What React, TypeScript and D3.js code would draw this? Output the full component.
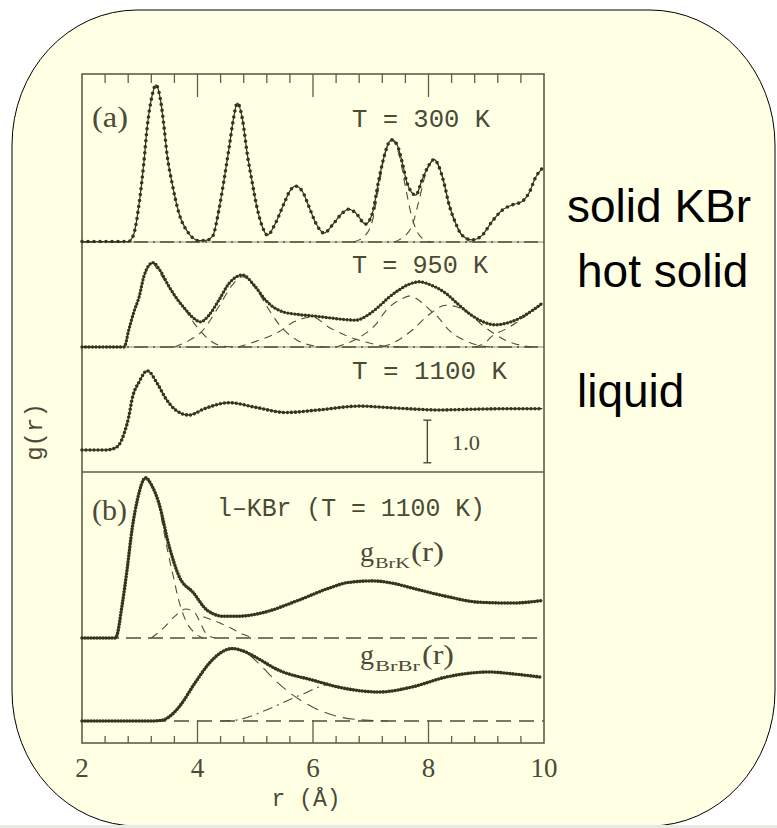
import React from "react";
import * as d3 from "d3";

type P = [number, number];

// ---------- data (r in Å, g in units of the "1.0" scale bar) ----------
const X_TICK_LABELS = [2, 4, 6, 8, 10];

const g300K: P[] = [
  [2.0, 0.01], [2.4, 0.01], [2.8, 0.01], [2.87, 0.1], [2.9, 0.2], [2.99, 0.91], [3.07, 1.85], [3.13, 2.71],
  [3.21, 3.41], [3.28, 3.69], [3.36, 3.33], [3.42, 2.71], [3.47, 2.08], [3.56, 1.38], [3.68, 0.67],
  [3.85, 0.2], [4.03, 0.03], [4.15, 0.04], [4.26, 0.13], [4.37, 0.75], [4.46, 1.46], [4.55, 2.24],
  [4.62, 2.87], [4.69, 3.26], [4.78, 2.87], [4.86, 2.08], [4.95, 1.38], [5.04, 0.75], [5.12, 0.37],
  [5.21, 0.16], [5.35, 0.44], [5.5, 0.91], [5.61, 1.22], [5.7, 1.31], [5.82, 1.18], [5.93, 0.83],
  [6.05, 0.44], [6.19, 0.21], [6.36, 0.44], [6.51, 0.68], [6.62, 0.77], [6.74, 0.68], [6.91, 0.42],
  [7.03, 0.68], [7.14, 1.46], [7.23, 2.0], [7.32, 2.35], [7.37, 2.4], [7.46, 2.27], [7.55, 1.84],
  [7.63, 1.38], [7.78, 1.1], [7.89, 1.46], [8.01, 1.81], [8.1, 1.94], [8.18, 1.77], [8.27, 1.38],
  [8.35, 0.91], [8.47, 0.44], [8.58, 0.16], [8.76, 0.05], [8.93, 0.16], [9.1, 0.48], [9.28, 0.75],
  [9.45, 0.87], [9.62, 0.95], [9.74, 1.15], [9.86, 1.53], [9.97, 1.73],
];
const g300K_c5: P[] = [
  [6.7, 0], [6.8, 0.05], [6.88, 0.12], [7.03, 0.5], [7.14, 1.3], [7.25, 2.1], [7.37, 2.38], [7.5, 2.0],
  [7.6, 1.3], [7.7, 0.65], [7.8, 0.25], [7.9, 0.08], [8.05, 0],
];
const g300K_c6: P[] = [
  [7.4, 0], [7.49, 0.05], [7.6, 0.15], [7.72, 0.4], [7.84, 1.0], [7.95, 1.6], [8.1, 1.92], [8.25, 1.5],
  [8.35, 0.9], [8.47, 0.42], [8.6, 0.12], [8.75, 0],
];

const g950K: P[] = [
  [2.0, 0], [2.4, 0], [2.73, 0], [2.81, 0.4], [2.9, 0.83], [2.99, 1.18], [3.07, 1.65], [3.15, 1.9],
  [3.23, 1.98], [3.35, 1.8], [3.51, 1.41], [3.65, 1.12], [3.8, 0.87], [3.93, 0.68], [4.05, 0.59],
  [4.2, 0.75], [4.37, 1.1], [4.55, 1.5], [4.78, 1.69], [4.98, 1.45], [5.18, 1.1], [5.32, 0.93],
  [5.47, 0.83], [5.7, 0.77], [5.99, 0.73], [6.25, 0.69], [6.51, 0.65], [6.74, 0.63], [6.95, 0.75],
  [7.14, 0.95], [7.3, 1.15], [7.49, 1.34], [7.66, 1.47], [7.84, 1.53], [8.05, 1.45], [8.3, 1.26],
  [8.5, 1.02], [8.7, 0.79], [8.93, 0.6], [9.16, 0.52], [9.35, 0.56], [9.57, 0.67], [9.8, 0.86], [9.97, 1.03],
];
const g950K_c1: P[] = [[3.23, 1.98], [3.5, 1.42], [3.8, 0.85], [3.94, 0.56], [4.08, 0.33], [4.2, 0.17], [4.4, 0.03], [4.6, 0]];
const g950K_c2: P[] = [
  [3.6, 0], [3.85, 0.15], [4.05, 0.33], [4.37, 0.95], [4.6, 1.45], [4.78, 1.65], [5.0, 1.4], [5.18, 1.0],
  [5.43, 0.5], [5.71, 0.17], [6.0, 0.03], [6.2, 0],
];
const g950K_c3: P[] = [
  [4.7, 0], [5.09, 0.17], [5.41, 0.36], [5.67, 0.59], [5.99, 0.7], [6.28, 0.46], [6.57, 0.27], [6.9, 0.12],
  [7.2, 0.03], [7.5, 0],
];
const g950K_c4: P[] = [
  [6.4, 0], [6.7, 0.15], [6.91, 0.32], [7.1, 0.55], [7.26, 0.85], [7.52, 1.12], [7.68, 1.2], [7.85, 1.08],
  [8.0, 0.9], [8.18, 0.68], [8.35, 0.4], [8.64, 0.15], [8.9, 0.03], [9.1, 0],
];
const g950K_c5: P[] = [
  [7.2, 0], [7.49, 0.17], [7.72, 0.4], [8.0, 0.75], [8.3, 0.98], [8.47, 0.95], [8.7, 0.8], [8.9, 0.55],
  [9.15, 0.3], [9.35, 0.15], [9.6, 0.04], [9.8, 0],
];
const g950K_c6: P[] = [[8.8, 0], [9.0, 0.12], [9.12, 0.28], [9.29, 0.39], [9.5, 0.55], [9.7, 0.75], [9.97, 1.0]];

const g1100K: P[] = [
  [2.0, 0], [2.4, 0], [2.52, 0.02], [2.64, 0.12], [2.73, 0.39], [2.81, 0.78], [2.87, 1.21], [2.99, 1.6],
  [3.13, 1.86], [3.3, 1.57], [3.45, 1.21], [3.62, 0.94], [3.85, 0.82], [4.14, 0.98], [4.55, 1.11],
  [5.01, 1.0], [5.53, 0.88], [6.1, 0.94], [6.8, 1.03], [7.49, 0.98], [8.18, 0.94], [8.87, 0.96],
  [9.5, 0.97], [9.97, 0.97],
];

const gBrK: P[] = [
  [2.0, 0], [2.4, 0], [2.58, 0], [2.7, 0.82], [2.78, 1.6], [2.87, 2.58], [2.96, 3.25], [3.1, 3.76],
  [3.2, 3.6], [3.33, 3.17], [3.51, 2.15], [3.68, 1.45], [3.93, 1.06], [4.16, 0.66], [4.45, 0.51],
  [4.7, 0.51], [5.12, 0.59], [5.7, 0.86], [6.28, 1.17], [6.6, 1.3], [7.03, 1.34], [7.4, 1.28],
  [7.72, 1.17], [8.3, 0.98], [8.87, 0.84], [9.45, 0.82], [9.97, 0.88],
];
const gBrK_c1: P[] = [[3.33, 3.17], [3.48, 2.07], [3.58, 1.45], [3.68, 0.86], [3.8, 0.4], [3.95, 0.12], [4.1, 0]];
const gBrK_c2: P[] = [[3.2, 0], [3.4, 0.22], [3.6, 0.5], [3.8, 0.68], [3.95, 0.6], [4.05, 0.35], [4.15, 0.1], [4.3, 0]];
const gBrK_c3: P[] = [[4.1, 0.5], [4.3, 0.4], [4.55, 0.25], [4.8, 0.08], [5.0, 0]];

const gBrBr: P[] = [
  [2.0, 0], [2.6, 0], [3.2, 0], [3.39, 0.02], [3.53, 0.12], [3.68, 0.33], [3.97, 0.92], [4.2, 1.35],
  [4.4, 1.6], [4.6, 1.7], [4.78, 1.65], [4.95, 1.54], [5.41, 1.19], [5.99, 0.96], [6.57, 0.76],
  [7.14, 0.68], [7.72, 0.8], [8.3, 1.03], [8.7, 1.12], [9.05, 1.15], [9.5, 1.1], [9.94, 1.03],
];
const gBrBr_c1: P[] = [[4.6, 1.7], [4.85, 1.6], [5.06, 1.35], [5.35, 0.95], [5.64, 0.62], [5.99, 0.33], [6.45, 0.1], [6.9, 0.02], [7.3, 0]];
const gBrBr_c2: P[] = [[4.4, 0], [4.66, 0.02], [5.18, 0.25], [5.64, 0.53], [5.87, 0.66], [6.1, 0.8], [6.3, 0.87]];

// ---------- layout ----------
const W = 777, H = 828;
const FL = 82, FR = 544, FT = 74, FB = 743;
const UNIT = 42.6;
const INK = "#34341f";
const TXT = "#4a4a37";
const FRAME = "#5f5f4a";
const MONO = "'Liberation Mono', 'DejaVu Sans Mono', monospace";
const SERIF = "'Liberation Serif', 'DejaVu Serif', serif";
const SANS = "'Liberation Sans', Arial, sans-serif";

const x = d3.scaleLinear().domain([2, 10]).range([FL, FR]);
const yAt = (base: number) => d3.scaleLinear().domain([0, 1]).range([base, base - UNIT]);

function pathFor(data: P[], base: number) {
  const y = yAt(base);
  return d3.line<P>().x((d) => x(d[0])).y((d) => y(d[1])).curve(d3.curveMonotoneX)(data) || "";
}

function MainCurve({ data, base, gap, dot }: { data: P[]; base: number; gap: number; dot: number }) {
  const d = pathFor(data, base);
  return (
    <g>
      <path d={d} fill="none" stroke={INK} strokeWidth={1.2} />
      <path d={d} fill="none" stroke={INK} strokeWidth={dot} strokeLinecap="round" strokeDasharray={`0 ${gap}`} />
    </g>
  );
}

function Comp({ data, base, dash = "8 6" }: { data: P[]; base: number; dash?: string }) {
  return <path d={pathFor(data, base)} fill="none" stroke="#4f4f3a" strokeWidth={1.1} strokeDasharray={dash} />;
}

function Baseline({ y, dash, solid }: { y: number; dash: string; solid?: boolean }) {
  return (
    <g>
      {solid && <line x1={FL} x2={FR} y1={y} y2={y} stroke="#8c8c74" strokeWidth={1} />}
      <line x1={FL} x2={FR} y1={y} y2={y} stroke="#4f4f3a" strokeWidth={1.3} strokeDasharray={dash} />
    </g>
  );
}

export default function App() {
  const minor = d3.range(0, 21).map((i) => 2 + i * 0.4).filter((v) => v > 2.01 && v < 9.99);
  const major = [4, 6, 8];
  const isMajor = (v: number) => major.some((m) => Math.abs(m - v) < 1e-6);
  const B300 = 242, B950 = 347, B1100 = 450, BBrK = 638, BBrBr = 721;
  const y1100 = yAt(B1100);

  return (
    <svg width={W} height={H} style={{ position: "absolute", left: 0, top: 0, display: "block" }}>
      <rect x={0} y={0} width={W} height={H} fill="#ffffff" />
      <rect x={12} y={10} width={763} height={816} rx={125} ry={135} fill="#ffffe4" stroke="#000" strokeWidth={1} />
      <rect x={0} y={825} width={W} height={3} fill="#e9e9e6" />

      {/* separators and baselines */}
      <Baseline y={B300} dash="14 5 2 5" solid />
      <Baseline y={B950} dash="14 5 2 5" solid />
      <line x1={FL} x2={FR} y1={472} y2={472} stroke={FRAME} strokeWidth={1.6} />
      <Baseline y={BBrK} dash="15 7" />
      <Baseline y={BBrBr} dash="15 8" />

      {/* frame */}
      <rect x={FL} y={FT} width={FR - FL} height={FB - FT} fill="none" stroke={FRAME} strokeWidth={1.6} />
      {minor.map((v, i) => (
        <g key={i}>
          <line x1={x(v)} x2={x(v)} y1={FT} y2={FT + (isMajor(v) ? 23 : 9)} stroke={FRAME} strokeWidth={1.3} />
          <line x1={x(v)} x2={x(v)} y1={FB} y2={FB - (isMajor(v) ? 23 : 7)} stroke={FRAME} strokeWidth={1.3} />
        </g>
      ))}
      {X_TICK_LABELS.map((v) => (
        <text key={v} x={x(v)} y={777} textAnchor="middle" fontFamily={SERIF} fontSize={27} fill={TXT}>
          {v}
        </text>
      ))}
      <text x={306} y={806} textAnchor="middle" fontFamily={MONO} fontSize={23} fill={TXT}>
        r (Å)
      </text>
      <text transform="translate(42,432) rotate(-90)" textAnchor="middle" fontFamily={MONO} fontSize={24} fill={TXT}>
        g(r)
      </text>

      {/* components */}
      <Comp data={g300K_c5} base={B300} />
      <Comp data={g300K_c6} base={B300} />
      <Comp data={g950K_c1} base={B950} />
      <Comp data={g950K_c2} base={B950} />
      <Comp data={g950K_c3} base={B950} />
      <Comp data={g950K_c4} base={B950} />
      <Comp data={g950K_c5} base={B950} />
      <Comp data={g950K_c6} base={B950} />
      <Comp data={gBrK_c1} base={BBrK} />
      <Comp data={gBrK_c2} base={BBrK} />
      <Comp data={gBrK_c3} base={BBrK} />
      <Comp data={gBrBr_c1} base={BBrBr} dash="12 7" />
      <Comp data={gBrBr_c2} base={BBrBr} dash="10 5 2 5" />

      {/* main curves */}
      <MainCurve data={g300K} base={B300} gap={6} dot={3.6} />
      <MainCurve data={g950K} base={B950} gap={3.5} dot={3.4} />
      <MainCurve data={g1100K} base={B1100} gap={4} dot={3.6} />
      <MainCurve data={gBrK} base={BBrK} gap={3} dot={3.6} />
      <MainCurve data={gBrBr} base={BBrBr} gap={3} dot={3.6} />

      {/* scale bar */}
      <g stroke={TXT} strokeWidth={1.4}>
        <line x1={x(7.98)} x2={x(7.98)} y1={y1100(-0.3)} y2={y1100(0.7)} />
        <line x1={x(7.98) - 4} x2={x(7.98) + 4} y1={y1100(-0.3)} y2={y1100(-0.3)} />
        <line x1={x(7.98) - 4} x2={x(7.98) + 4} y1={y1100(0.7)} y2={y1100(0.7)} />
      </g>
      <text x={452} y={450} fontFamily={SERIF} fontSize={22} fill={TXT} textLength={28} lengthAdjust="spacingAndGlyphs">
        1.0
      </text>

      {/* panel texts */}
      <text x={92} y={127} fontFamily={SERIF} fontSize={29} fill={TXT} textLength={36} lengthAdjust="spacingAndGlyphs">(a)</text>
      <text x={352} y={127} fontFamily={MONO} fontSize={25} fill={TXT} textLength={138} lengthAdjust="spacingAndGlyphs">T = 300 K</text>
      <text x={352} y={273} fontFamily={MONO} fontSize={25} fill={TXT} textLength={136} lengthAdjust="spacingAndGlyphs">T = 950 K</text>
      <text x={352} y={379} fontFamily={MONO} fontSize={25} fill={TXT} textLength={155} lengthAdjust="spacingAndGlyphs">T = 1100 K</text>
      <text x={92} y={520} fontFamily={SERIF} fontSize={29} fill={TXT} textLength={35} lengthAdjust="spacingAndGlyphs">(b)</text>
      <text x={217} y={516} fontFamily={MONO} fontSize={25} fill={TXT} textLength={268} lengthAdjust="spacingAndGlyphs">l–KBr (T = 1100 K)</text>

      <text x={360} y={561} fontFamily={SERIF} fontSize={28} fill={TXT}>g</text>
      <text x={375} y={568} fontFamily={SERIF} fontSize={15} fill={TXT} textLength={35} lengthAdjust="spacingAndGlyphs">BrK</text>
      <text x={411} y={561} fontFamily={SERIF} fontSize={28} fill={TXT} textLength={33} lengthAdjust="spacingAndGlyphs">(r)</text>

      <text x={360} y={664} fontFamily={SERIF} fontSize={28} fill={TXT}>g</text>
      <text x={375} y={671} fontFamily={SERIF} fontSize={15} fill={TXT} textLength={45} lengthAdjust="spacingAndGlyphs">BrBr</text>
      <text x={422} y={664} fontFamily={SERIF} fontSize={28} fill={TXT} textLength={32} lengthAdjust="spacingAndGlyphs">(r)</text>

      {/* right-hand annotations */}
      <text x={567} y={222} fontFamily={SANS} fontSize={46} fill="#000">solid KBr</text>
      <text x={577} y={287} fontFamily={SANS} fontSize={46} fill="#000">hot solid</text>
      <text x={577} y={407} fontFamily={SANS} fontSize={46} fill="#000">liquid</text>
    </svg>
  );
}
